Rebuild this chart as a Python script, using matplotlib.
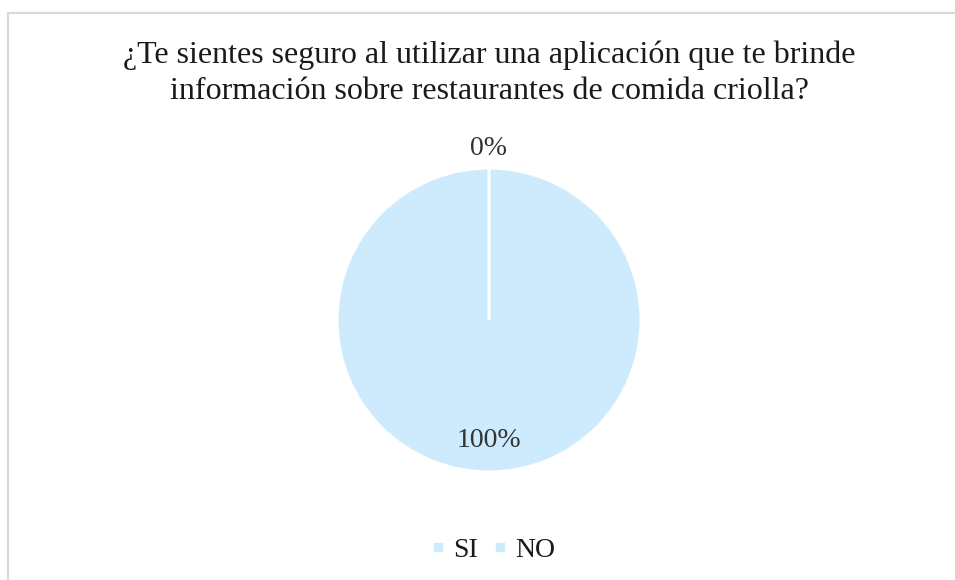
import matplotlib
matplotlib.use("Agg")
import matplotlib.pyplot as plt
from matplotlib.patches import Rectangle
from matplotlib.lines import Line2D
import numpy as np

title = "¿Te sientes seguro al utilizar una aplicación que te brinde\ninformación sobre restaurantes de comida criolla?"
categories = ["SI", "NO"]
values = [100, 0]
pct_labels = ["100%", "0%"]
colors = ["#CDEBFC", "#CDEBFC"]

plt.rcParams['font.family'] = ['Liberation Serif', 'DejaVu Serif']

W, H = 955, 580
fig = plt.figure(figsize=(W / 100, H / 100), dpi=100)
fig.patch.set_facecolor("white")

# chart border
fig.patches.append(Rectangle((8 / W, -0.1), 1.2, (H - 13) / H + 0.1,
                             transform=fig.transFigure, fill=False,
                             edgecolor="#D9D9D9", linewidth=1.5, zorder=0))

cx, cy, r = 489, 320, 152
ax = fig.add_axes([(cx - r) / W, (H - cy - r) / H, 2 * r / W, 2 * r / H])
wedges, _ = ax.pie(values, colors=colors, startangle=90, counterclock=False,
                   radius=1, wedgeprops=dict(edgecolor="white", linewidth=2.2))
ax.set_xlim(-1, 1)
ax.set_ylim(-1, 1)
ax.set_aspect("equal")
ax.axis("off")

# percentage labels
total = sum(values)
start = 90.0
for v, lab in zip(values, pct_labels):
    sweep = 360.0 * v / total
    mid = np.deg2rad(start - sweep / 2)
    dist = 0.79 if v > 0 else 1.13
    ax.text(dist * np.cos(mid), dist * np.sin(mid), lab, ha="center", va="center",
            fontsize=20, color="#333333", clip_on=False)
    start -= sweep

fig.text(cx / W, 1 - 73 / H, title, ha="center", va="center", fontsize=23,
         color="#1a1a1a", linespacing=1.3)

handles = [Line2D([0], [0], marker="s", linestyle="none", markersize=6,
                  markerfacecolor=c, markeredgecolor=c) for c in colors]
fig.legend(handles, categories, loc="center", bbox_to_anchor=(494 / W, 1 - 550 / H),
           ncol=2, frameon=False, fontsize=20, handlelength=0.4, handletextpad=0.35,
           columnspacing=0.6, labelcolor="#1a1a1a")

fig.savefig("out.png", dpi=100, facecolor="white")
